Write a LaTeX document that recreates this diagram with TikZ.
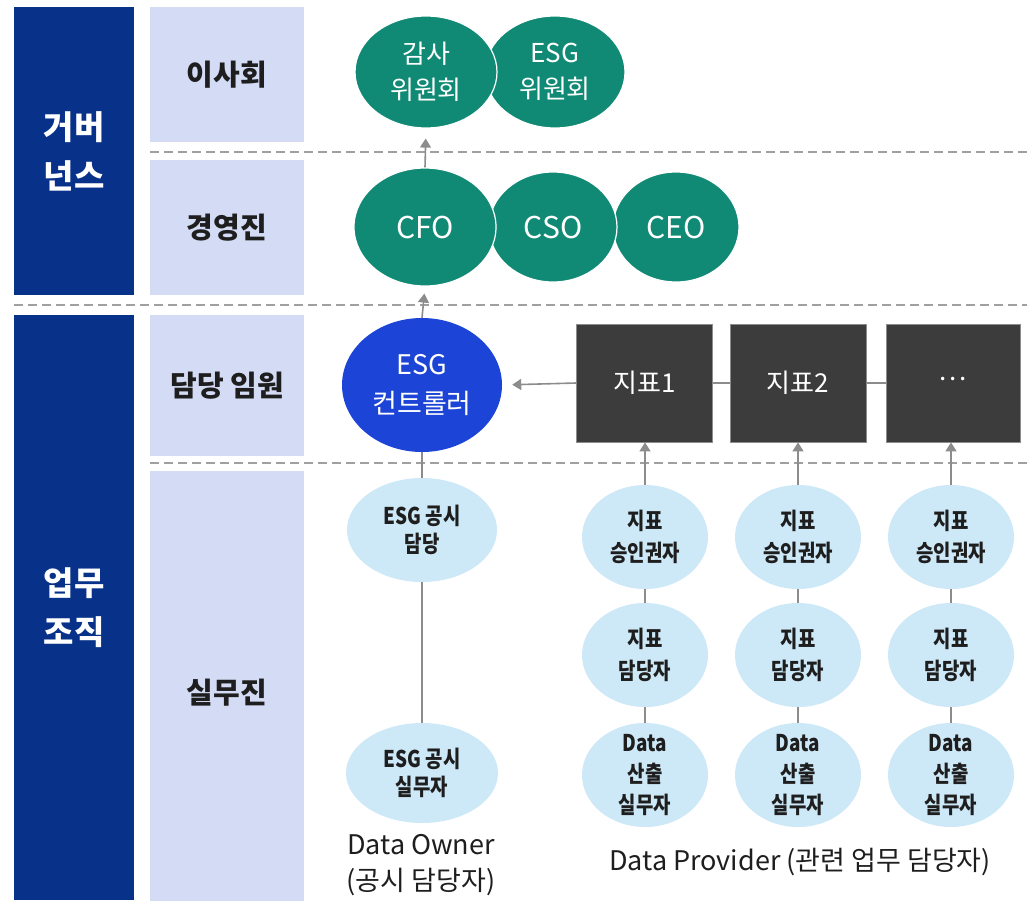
\documentclass[tikz,border=0pt]{standalone}
\usepackage{fontspec}
\setmainfont{Noto Sans CJK KR}
\newfontfamily\narrowkr{Noto Sans CJK KR}[FakeStretch=0.82]
\usetikzlibrary{arrows.meta,shapes.geometric}

\definecolor{navyc}{RGB}{8,50,138}
\definecolor{lavc}{RGB}{212,219,245}
\definecolor{greenc}{RGB}{17,138,117}
\definecolor{ctrlblue}{RGB}{28,68,214}
\definecolor{kpigray}{RGB}{60,60,60}
\definecolor{skyc}{RGB}{205,232,247}
\definecolor{linegray}{RGB}{140,140,140}
\definecolor{dashgray}{RGB}{160,160,160}
\definecolor{inkc}{RGB}{30,30,30}

\begin{document}
\begin{tikzpicture}[x=1pt,y=-1pt,
  navyblk/.style={rectangle, fill=navyc, draw=none, minimum width=120, align=center,
    text=white, font=\fontsize{33}{49}\selectfont\bfseries},
  lavblk/.style={rectangle, fill=lavc, draw=none, minimum width=154, align=center,
    text=inkc, font=\fontsize{29}{32}\selectfont\bfseries},
  gcirc/.style={ellipse, fill=greenc, draw=white, line width=1.2pt, inner sep=0pt},
  gtext/.style={align=center, text=white, inner sep=0pt, font=\fontsize{26}{36}\selectfont},
  ltext/.style={align=center, text=white, inner sep=0pt, font=\fontsize{30}{34}\selectfont},
  ctrlcirc/.style={ellipse, fill=ctrlblue, draw=none, inner sep=0pt},
  kpi/.style={rectangle, fill=kpigray, draw=linegray, line width=0.8pt, minimum height=118,
    text=white, font=\fontsize{26}{30}\selectfont},
  skycirc/.style={ellipse, fill=skyc, draw=none, inner sep=0pt},
  stext/.style={align=center, text=inkc, inner sep=0pt, font=\narrowkr\fontsize{23}{31}\selectfont\bfseries},
  caption/.style={align=center, text=inkc, inner sep=0pt, font=\fontsize{27}{36}\selectfont},
  ln/.style={draw=linegray, line width=1.6pt},
  arr/.style={ln, -{Triangle[width=11pt,length=9pt]}},
  sep/.style={draw=dashgray, line width=1.6pt, dash pattern=on 9pt off 5pt}
]
\useasboundingbox (0,0) rectangle (1027,900);
\clip (0,0) rectangle (1027,900);

% level separators
\draw[sep] (150,152) -- (1027,152);
\draw[sep] (14,305) -- (1027,305);
\draw[sep] (150,463) -- (1027,463);

% left column: groups and levels
\node[navyblk, minimum height=288] (gov) at (74,151) {거버\\넌스};
\node[navyblk, minimum height=585] (ops) at (74,607.5) {업무\\조직};
\node[lavblk, minimum height=135] (board) at (227,74.5) {이사회};
\node[lavblk, minimum height=135] (mgmt) at (227,227.5) {경영진};
\node[lavblk, minimum height=141] (exec) at (227,385.5) {담당 임원};
\node[lavblk, minimum height=444] (staff) at (227,693) {실무진};

% board committees (right one first so the left one overlaps it)
\node[gcirc, minimum width=140, minimum height=112,
  label={[gtext]center:{ESG\\위원회}}] (esgcom) at (555,72) {};
\node[gcirc, minimum width=142, minimum height=112,
  label={[gtext]center:{감사\\위원회}}] (audit) at (426,72) {};

% management
\node[gcirc, minimum width=126, minimum height=110,
  label={[ltext]center:{CEO}}] (ceo) at (676,227) {};
\node[gcirc, minimum width=128, minimum height=110,
  label={[ltext]center:{CSO}}] (cso) at (553,227) {};
\node[gcirc, minimum width=142, minimum height=118,
  label={[ltext]center:{CFO}}] (cfo) at (425,227) {};

% ESG controller and indicators
\node[ctrlcirc, minimum width=160, minimum height=134,
  label={[gtext, font=\fontsize{27}{39}\selectfont]center:{ESG\\컨트롤러}}] (ctrl) at (422,385) {};
\node[kpi, minimum width=136] (k1) at (644.5,383) {지표1};
\node[kpi, minimum width=136] (k2) at (798,383) {지표2};
\node[kpi, minimum width=134] (k3) at (953,383) {\raisebox{0.3em}{.\hspace{0.12em}.\hspace{0.12em}.}};

% data owner
\node[skycirc, minimum width=150, minimum height=104,
  label={[stext, font=\narrowkr\fontsize{23}{28}\selectfont\bfseries]center:{ESG 공시\\담당}}] (own1) at (422,530) {};
\node[skycirc, minimum width=152, minimum height=100,
  label={[stext, font=\narrowkr\fontsize{23}{28}\selectfont\bfseries]center:{ESG 공시\\실무자}}] (own2) at (422,773) {};

% data providers
\foreach \c/\x in {1/645,2/798,3/951}{
  \node[skycirc, minimum width=126, minimum height=104,
    label={[stext, font=\narrowkr\fontsize{23}{32}\selectfont\bfseries]center:{지표\\승인권자}}] (a\c) at (\x,537) {};
  \node[skycirc, minimum width=126, minimum height=104,
    label={[stext, font=\narrowkr\fontsize{23}{32}\selectfont\bfseries]center:{지표\\담당자}}] (b\c) at (\x,655) {};
  \node[skycirc, minimum width=126, minimum height=104,
    label={[stext]center:{Data\\산출\\실무자}}] (c\c) at (\x,775) {};
}

% captions
\node[caption] (ownercap) at (421,865) {Data Owner\\(공시 담당자)};
\node[caption] (providercap) at (800,862) {Data Provider (관련 업무 담당자)};

% connectors
\draw[arr, shorten >=10pt] (cfo.north) -- (audit.south);
\draw[arr, shorten >=7pt] (ctrl.north) -- (cfo.south);
\draw[ln] (own1.north) -- (ctrl.south);
\draw[ln] (own1.south) -- (own2.north);
\draw[arr, shorten >=10pt] (k1.west) -- (ctrl.east);
\draw[ln] (k1.east) -- (k2.west);
\draw[ln] (k2.east) -- (k3.west);
\foreach \c in {1,2,3}{
  \draw[arr] (a\c.north) -- (a\c.north |- k\c.south);
  \draw[ln] (a\c.south) -- (b\c.north);
  \draw[ln] (b\c.south) -- (c\c.north);
}
\end{tikzpicture}
\end{document}
